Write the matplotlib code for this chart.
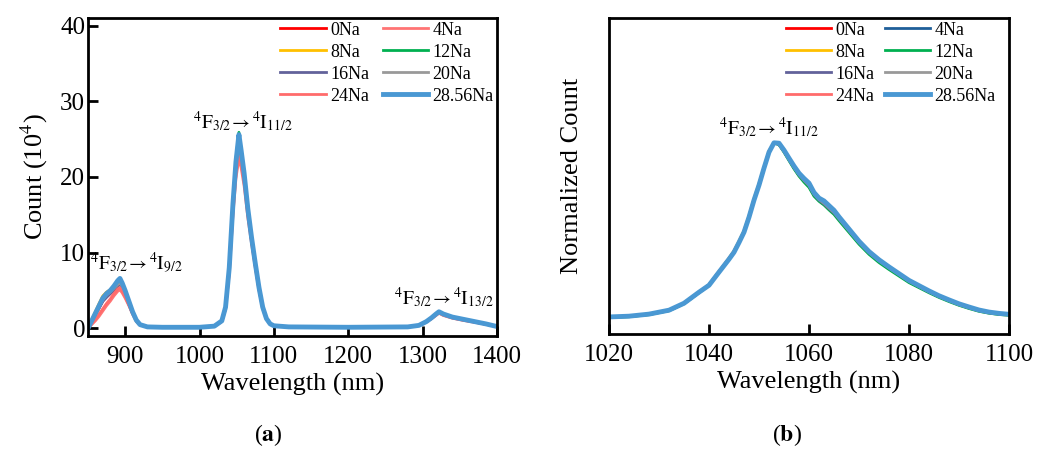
"""Nd emission spectra vs Na content: (a) full range, (b) normalized 1064 band."""

import matplotlib
matplotlib.use("Agg")
import matplotlib.pyplot as plt

plt.rcParams["font.family"] = ["Liberation Serif", "DejaVu Serif"]
plt.rcParams["mathtext.fontset"] = "stix"

LABELS = ["0Na", "4Na", "8Na", "12Na", "16Na", "20Na", "24Na", "28.56Na"]
COLORS_A = ["#ff0000", "#ff7474", "#ffc000", "#00b050", "#62629a", "#999999", "#ff6b6b", "#4a98d3"]
COLORS_B = ["#ff0000", "#1f5f99", "#ffc000", "#00b050", "#62629a", "#999999", "#ff6b6b", "#4a98d3"]

# panel (a): wavelength (nm) and count (10^4)
WL_A = [850, 855, 860, 865, 870, 875, 880, 885, 890, 893, 896, 900, 905, 910, 915, 920, 930, 950, 1000, 1020,
        1030, 1035, 1040, 1045, 1049, 1053, 1056, 1060, 1065, 1070, 1075, 1080, 1085, 1090, 1095, 1100, 1120, 1200,
        1280, 1295, 1305, 1312, 1318, 1322, 1328, 1340, 1355, 1370, 1385, 1400]
NA0_A = [0.0, 0.9, 1.8, 2.7, 3.6, 4.2, 4.6, 5.1, 5.7, 6.0, 5.5, 4.6, 3.3, 2.0, 1.0, 0.5, 0.2, 0.15, 0.15, 0.3,
         1.0, 2.7, 7.7, 16.0, 21.2, 24.5, 22.6, 19.8, 15.2, 11.6, 8.3, 5.2, 2.7, 1.3, 0.6, 0.35, 0.2, 0.15,
         0.2, 0.4, 0.9, 1.3, 1.8, 2.1, 1.8, 1.4, 1.1, 0.85, 0.55, 0.25]
NA4_A = [0.0, 0.5, 1.0, 1.6, 2.3, 3.0, 3.6, 4.3, 4.9, 5.1, 4.7, 4.0, 3.0, 1.9, 1.0, 0.5, 0.2, 0.15, 0.15, 0.3,
         0.9, 2.5, 7.2, 15.0, 19.8, 22.5, 21.2, 18.8, 14.6, 11.2, 8.0, 5.0, 2.6, 1.2, 0.6, 0.35, 0.2, 0.15,
         0.2, 0.4, 0.85, 1.3, 1.7, 2.0, 1.7, 1.35, 1.05, 0.8, 0.55, 0.25]
NA8_A = [0.0, 1.1, 2.2, 3.3, 4.3, 4.8, 5.1, 5.6, 6.1, 6.3, 5.8, 4.8, 3.4, 2.1, 1.0, 0.5, 0.2, 0.15, 0.15, 0.3,
         1.0, 2.8, 8.0, 16.4, 21.8, 25.0, 22.9, 20.0, 15.4, 11.7, 8.4, 5.3, 2.7, 1.3, 0.6, 0.35, 0.2, 0.15,
         0.2, 0.4, 0.9, 1.4, 1.9, 2.2, 1.9, 1.5, 1.2, 0.9, 0.6, 0.25]
NA12_A = [0.0, 1.0, 2.0, 3.1, 4.1, 4.6, 5.0, 5.5, 6.0, 6.2, 5.7, 4.8, 3.4, 2.1, 1.0, 0.5, 0.2, 0.15, 0.15, 0.3,
          1.0, 2.9, 8.2, 16.8, 22.4, 25.9, 23.3, 20.1, 15.4, 11.7, 8.4, 5.3, 2.7, 1.3, 0.6, 0.35, 0.2, 0.2,
          0.2, 0.4, 0.9, 1.4, 1.9, 2.2, 1.9, 1.5, 1.2, 0.9, 0.6, 0.25]
NA16_A = [0.0, 0.9, 1.8, 2.7, 3.6, 4.1, 4.6, 5.0, 5.6, 5.8, 5.4, 4.5, 3.2, 2.0, 1.0, 0.5, 0.2, 0.15, 0.15, 0.3,
          1.0, 2.7, 7.8, 16.1, 21.5, 24.8, 22.8, 19.9, 15.3, 11.6, 8.3, 5.2, 2.7, 1.3, 0.6, 0.35, 0.2, 0.15,
          0.2, 0.4, 0.9, 1.35, 1.85, 2.15, 1.85, 1.45, 1.15, 0.85, 0.55, 0.25]
NA20_A = [0.0, 1.0, 1.9, 2.9, 3.8, 4.4, 4.8, 5.3, 5.8, 6.0, 5.6, 4.7, 3.3, 2.0, 1.0, 0.5, 0.2, 0.15, 0.15, 0.3,
          1.0, 2.8, 7.9, 16.2, 21.6, 25.0, 23.0, 20.1, 15.5, 11.8, 8.4, 5.3, 2.7, 1.3, 0.6, 0.35, 0.2, 0.15,
          0.2, 0.4, 0.9, 1.4, 1.9, 2.2, 1.9, 1.5, 1.15, 0.9, 0.6, 0.25]
NA24_A = [0.0, 0.6, 1.2, 1.9, 2.6, 3.3, 3.9, 4.6, 5.2, 5.4, 5.0, 4.2, 3.1, 1.9, 1.0, 0.5, 0.2, 0.15, 0.15, 0.3,
          0.9, 2.6, 7.4, 15.3, 20.3, 23.0, 21.8, 19.4, 15.1, 11.6, 8.3, 5.2, 2.7, 1.3, 0.6, 0.35, 0.2, 0.15,
          0.2, 0.4, 0.85, 1.3, 1.75, 2.05, 1.75, 1.4, 1.1, 0.85, 0.55, 0.25]
NA2856_A = [0.0, 1.0, 2.0, 3.0, 4.0, 4.6, 5.0, 5.6, 6.3, 6.6, 6.0, 5.0, 3.6, 2.2, 1.1, 0.5, 0.2, 0.15, 0.15, 0.3,
            1.0, 2.8, 8.0, 16.5, 22.0, 25.6, 23.5, 20.5, 15.8, 12.0, 8.6, 5.4, 2.8, 1.3, 0.6, 0.35, 0.2, 0.15,
            0.2, 0.4, 0.9, 1.4, 1.9, 2.2, 1.9, 1.5, 1.2, 0.9, 0.6, 0.25]

# panel (b): normalized count around the 4F3/2 -> 4I11/2 band
WL_B = [1020, 1024, 1028, 1032, 1035, 1038, 1040, 1042, 1044, 1045, 1046, 1047, 1048, 1049, 1050, 1051,
        1052, 1053, 1054, 1055, 1056, 1057, 1058, 1059, 1060, 1061, 1062, 1063, 1064, 1065, 1066, 1068,
        1070, 1072, 1074, 1076, 1078, 1080, 1082, 1084, 1086, 1088, 1090, 1092, 1094, 1096, 1098, 1100]
NA0_B = [0.070, 0.074, 0.085, 0.106, 0.143, 0.202, 0.242, 0.312, 0.382, 0.420, 0.470, 0.525, 0.605, 0.695,
         0.775, 0.866, 0.952, 1.000, 0.992, 0.955, 0.912, 0.870, 0.832, 0.802, 0.775, 0.728, 0.700, 0.682,
         0.657, 0.632, 0.598, 0.533, 0.470, 0.415, 0.371, 0.333, 0.298, 0.262, 0.234, 0.206, 0.181, 0.159,
         0.138, 0.121, 0.106, 0.095, 0.088, 0.084]
NA4_B = [0.070, 0.074, 0.085, 0.105, 0.142, 0.201, 0.240, 0.309, 0.378, 0.415, 0.467, 0.522, 0.602, 0.693,
         0.773, 0.864, 0.949, 1.000, 0.994, 0.956, 0.912, 0.868, 0.828, 0.798, 0.770, 0.722, 0.694, 0.672,
         0.647, 0.625, 0.593, 0.530, 0.467, 0.413, 0.369, 0.331, 0.296, 0.261, 0.233, 0.205, 0.180, 0.158,
         0.137, 0.120, 0.105, 0.094, 0.087, 0.083]
NA8_B = [0.069, 0.073, 0.084, 0.106, 0.144, 0.204, 0.243, 0.314, 0.385, 0.424, 0.476, 0.532, 0.612, 0.703,
         0.783, 0.872, 0.957, 1.000, 0.990, 0.952, 0.908, 0.865, 0.826, 0.796, 0.768, 0.722, 0.693, 0.673,
         0.648, 0.624, 0.591, 0.527, 0.464, 0.410, 0.366, 0.328, 0.293, 0.258, 0.230, 0.203, 0.178, 0.156,
         0.135, 0.118, 0.103, 0.092, 0.085, 0.081]
NA12_B = [0.068, 0.072, 0.083, 0.104, 0.141, 0.200, 0.239, 0.309, 0.378, 0.416, 0.467, 0.522, 0.602, 0.692,
          0.772, 0.862, 0.948, 1.000, 0.990, 0.950, 0.905, 0.861, 0.822, 0.790, 0.762, 0.715, 0.688, 0.668,
          0.642, 0.618, 0.585, 0.522, 0.459, 0.405, 0.361, 0.324, 0.289, 0.254, 0.227, 0.200, 0.175, 0.153,
          0.133, 0.116, 0.101, 0.091, 0.084, 0.080]
NA16_B = [0.070, 0.074, 0.085, 0.106, 0.143, 0.202, 0.241, 0.311, 0.380, 0.418, 0.469, 0.524, 0.604, 0.694,
          0.774, 0.864, 0.950, 1.000, 0.993, 0.955, 0.911, 0.868, 0.829, 0.799, 0.772, 0.724, 0.695, 0.674,
          0.649, 0.626, 0.594, 0.531, 0.468, 0.414, 0.370, 0.332, 0.297, 0.261, 0.233, 0.205, 0.180, 0.158,
          0.137, 0.120, 0.105, 0.094, 0.087, 0.083]
NA20_B = [0.070, 0.074, 0.085, 0.106, 0.143, 0.203, 0.242, 0.312, 0.381, 0.419, 0.470, 0.525, 0.605, 0.695,
          0.775, 0.865, 0.951, 1.000, 0.994, 0.957, 0.913, 0.870, 0.831, 0.801, 0.774, 0.727, 0.698, 0.678,
          0.653, 0.629, 0.596, 0.532, 0.469, 0.415, 0.371, 0.333, 0.298, 0.262, 0.234, 0.206, 0.181, 0.159,
          0.138, 0.121, 0.106, 0.095, 0.088, 0.084]
NA24_B = [0.070, 0.074, 0.085, 0.106, 0.143, 0.202, 0.242, 0.313, 0.383, 0.421, 0.471, 0.526, 0.605, 0.695,
          0.775, 0.865, 0.951, 1.000, 0.997, 0.960, 0.917, 0.875, 0.837, 0.808, 0.782, 0.733, 0.704, 0.688,
          0.663, 0.638, 0.603, 0.538, 0.473, 0.418, 0.374, 0.336, 0.300, 0.264, 0.236, 0.208, 0.182, 0.160,
          0.139, 0.122, 0.106, 0.095, 0.088, 0.084]
NA2856_B = [0.071, 0.075, 0.086, 0.107, 0.144, 0.203, 0.240, 0.310, 0.379, 0.416, 0.468, 0.523, 0.603, 0.694,
            0.774, 0.865, 0.950, 1.000, 0.998, 0.961, 0.918, 0.876, 0.838, 0.810, 0.785, 0.735, 0.705, 0.690,
            0.665, 0.640, 0.605, 0.540, 0.475, 0.420, 0.376, 0.338, 0.302, 0.266, 0.238, 0.210, 0.184, 0.162,
            0.141, 0.124, 0.108, 0.097, 0.090, 0.085]

SERIES_A = [NA0_A, NA4_A, NA8_A, NA12_A, NA16_A, NA20_A, NA24_A, NA2856_A]
SERIES_B = [NA0_B, NA4_B, NA8_B, NA12_B, NA16_B, NA20_B, NA24_B, NA2856_B]

TRANS_9 = r"$^{4}\mathrm{F}_{3/2}\!\rightarrow{}^{4}\mathrm{I}_{9/2}$"
TRANS_11 = r"$^{4}\mathrm{F}_{3/2}\!\rightarrow{}^{4}\mathrm{I}_{11/2}$"
TRANS_13 = r"$^{4}\mathrm{F}_{3/2}\!\rightarrow{}^{4}\mathrm{I}_{13/2}$"

# legend reads row by row: 0Na 4Na / 8Na 12Na / ...
ROW_ORDER = [0, 2, 4, 6, 1, 3, 5, 7]


def style_axes(ax):
    for sp in ax.spines.values():
        sp.set_linewidth(2.0)
    ax.tick_params(direction="in", length=7, width=2, labelsize=18)
    ax.tick_params(axis="x", pad=7)
    ax.tick_params(axis="y", pad=2)


def add_legend(ax, anchor, colsp):
    handles, labels = ax.get_legend_handles_labels()
    ax.legend([handles[i] for i in ROW_ORDER], [labels[i] for i in ROW_ORDER],
              ncol=2, loc="upper right", bbox_to_anchor=anchor, frameon=False,
              fontsize=13, handlelength=2.5, handletextpad=0.25, columnspacing=colsp,
              labelspacing=0.28, borderpad=0.2, borderaxespad=0.0)


fig = plt.figure(figsize=(10.56, 4.53), dpi=100)
ax_a = fig.add_axes([0.0833, 0.2583, 0.3873, 0.702])
ax_b = fig.add_axes([0.5767, 0.2627, 0.3788, 0.6976])

for lab, col, ys in zip(LABELS, COLORS_A, SERIES_A):
    lw = 3.5 if lab == "28.56Na" else 2.0
    ax_a.plot(WL_A, ys, color=col, lw=lw, label=lab)
ax_a.set_xlim(850, 1400)
ax_a.set_ylim(-1.0, 41.0)
ax_a.set_xticks([900, 1000, 1100, 1200, 1300, 1400])
ax_a.set_yticks([0, 10, 20, 30, 40])
ax_a.set_xlabel("Wavelength (nm)", fontsize=19, labelpad=4)
ax_a.set_ylabel(r"Count (10$^{4}$)", fontsize=19, labelpad=7)
style_axes(ax_a)
add_legend(ax_a, (1.0, 1.0), 0.75)
ax_a.text(915, 8.6, TRANS_9, fontsize=14, ha="center", va="center")
ax_a.text(1058, 27.3, TRANS_11, fontsize=14, ha="center", va="center")
ax_a.text(1329, 4.1, TRANS_13, fontsize=14, ha="center", va="center")

for lab, col, ys in zip(LABELS, COLORS_B, SERIES_B):
    lw = 3.5 if lab == "28.56Na" else 2.0
    ax_b.plot(WL_B, ys, color=col, lw=lw, label=lab)
ax_b.set_xlim(1020, 1100)
ax_b.set_ylim(-0.02, 1.666)
ax_b.set_xticks([1020, 1040, 1060, 1080, 1100])
ax_b.set_yticks([])
ax_b.set_xlabel("Wavelength (nm)", fontsize=19, labelpad=4)
ax_b.set_ylabel("Normalized Count", fontsize=19, labelpad=19)
style_axes(ax_b)
add_legend(ax_b, (0.975, 1.0), 0.55)
ax_b.text(1052, 1.08, TRANS_11, fontsize=14, ha="center", va="center")

fig.text(0.254, 0.01, r"($\mathbf{a}$)", fontsize=17, ha="center", va="bottom")
fig.text(0.745, 0.01, r"($\mathbf{b}$)", fontsize=17, ha="center", va="bottom")

fig.savefig("out.png", dpi=100)
